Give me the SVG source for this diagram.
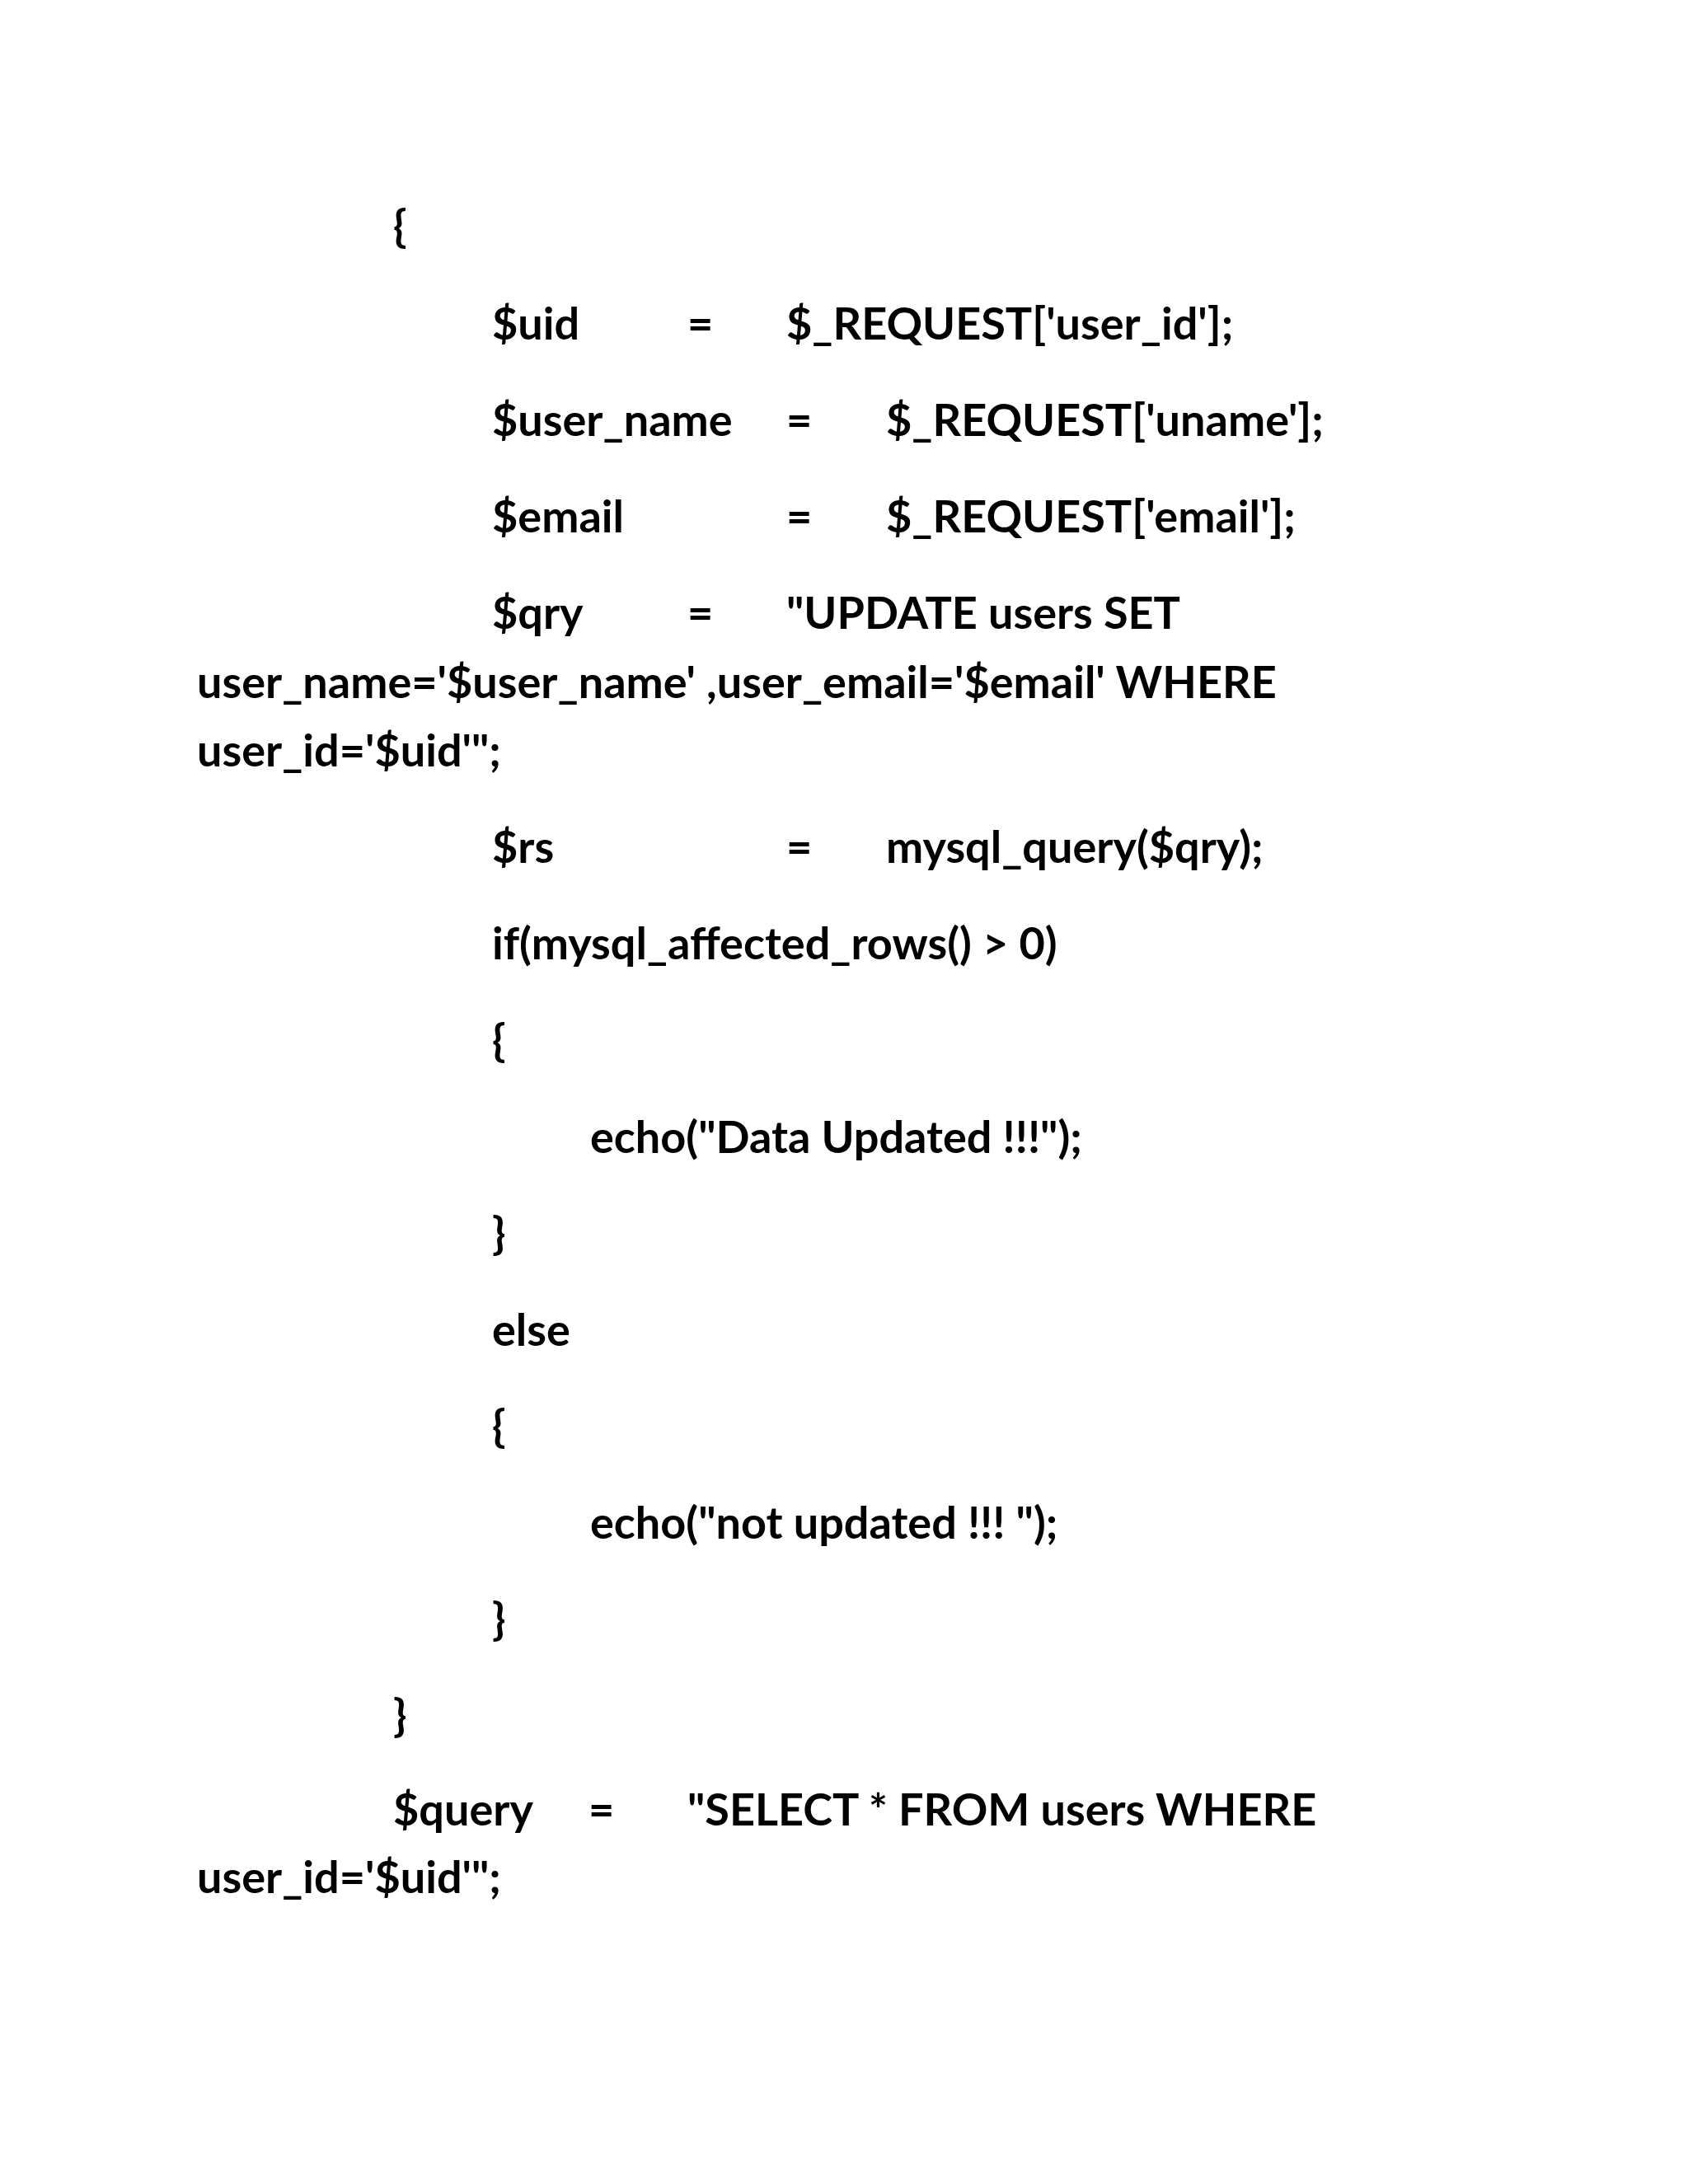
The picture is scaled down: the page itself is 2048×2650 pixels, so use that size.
<svg xmlns="http://www.w3.org/2000/svg" width="2048" height="2650" viewBox="0 0 2048 2650">
<style>text{font-family:Lato,"Open Sans","Liberation Sans",sans-serif;font-weight:bold;font-size:54px;fill:#000}</style>
<rect width="2048" height="2650" fill="#fff"/>
<text x="477" y="294">{</text>
<text x="597" y="412">$uid</text><text x="834" y="412">=</text><text x="954" y="412">$_REQUEST['user_id'];</text>
<text x="597" y="529">$user_name</text><text x="954" y="529">=</text><text x="1075" y="529">$_REQUEST['uname'];</text>
<text x="597" y="646">$email</text><text x="954" y="646">=</text><text x="1075" y="646">$_REQUEST['email'];</text>
<text x="597" y="763">$qry</text><text x="834" y="763">=</text><text x="954" y="763">"UPDATE users SET</text>
<text x="239" y="847">user_name='$user_name' ,user_email='$email' WHERE</text>
<text x="239" y="930">user_id='$uid'";</text>
<text x="597" y="1047">$rs</text><text x="954" y="1047">=</text><text x="1075" y="1047">mysql_query($qry);</text>
<text x="597" y="1164">if(mysql_affected_rows() &gt; 0)</text>
<text x="597" y="1282">{</text>
<text x="716" y="1399">echo("Data Updated !!!");</text>
<text x="597" y="1516">}</text>
<text x="597" y="1633">else</text>
<text x="597" y="1750">{</text>
<text x="716" y="1867">echo("not updated !!! ");</text>
<text x="597" y="1984">}</text>
<text x="477" y="2101">}</text>
<text x="477" y="2215">$query</text><text x="714" y="2215">=</text><text x="834" y="2215">"SELECT * FROM users WHERE</text>
<text x="239" y="2297">user_id='$uid'";</text>
</svg>
